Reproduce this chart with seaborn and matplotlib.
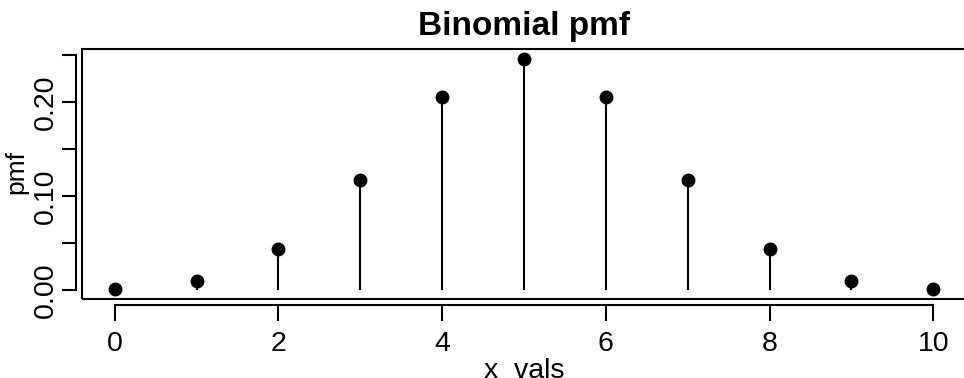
import matplotlib
matplotlib.use("Agg")
import matplotlib.pyplot as plt
from matplotlib.patches import Rectangle
import seaborn as sns
import pandas as pd

# Binomial(n=10, p=0.5) probability mass function
x_vals = [0, 1, 2, 3, 4, 5, 6, 7, 8, 9, 10]
pmf = [0.000977, 0.009766, 0.043945, 0.117188, 0.205078, 0.246094,
       0.205078, 0.117188, 0.043945, 0.009766, 0.000977]
x_ticks = [0, 2, 4, 6, 8, 10]
y_ticks = [0.00, 0.05, 0.10, 0.15, 0.20, 0.25]
y_ticklabels = ["0.00", "", "0.10", "", "0.20", ""]

df = pd.DataFrame({"x": x_vals, "pmf": pmf})

sns.set_style("white")
plt.rcParams["font.family"] = ["Liberation Sans", "DejaVu Sans"]
plt.rcParams["text.color"] = "black"
plt.rcParams["axes.labelcolor"] = "black"

fig = plt.figure(figsize=(9.64, 3.78), dpi=100)
ax = fig.add_axes([0.0851, 0.2082, 0.9169, 0.6614])

lw = 1.5
# vertical stems from zero up to each probability
ax.vlines(df["x"], 0, df["pmf"], color="black", linewidth=lw, zorder=2)
sns.scatterplot(data=df, x="x", y="pmf", ax=ax, color="black", s=100,
                edgecolor="black", linewidth=0, zorder=3)

# axis ranges with 4% padding on each side
xr = max(x_vals) - min(x_vals)
ax.set_xlim(min(x_vals) - 0.04 * xr, max(x_vals) + 0.04 * xr)
ax.set_ylim(-0.04 * max(pmf), max(pmf) * 1.04)

# plot frame
for s in ax.spines.values():
    s.set_visible(False)
ax.add_patch(Rectangle((0, 0), 1, 1, transform=ax.transAxes, fill=False,
                       edgecolor="black", linewidth=lw, clip_on=False, zorder=4))

# detached axes in the bottom-left
for side in ("left", "bottom"):
    sp = ax.spines[side]
    sp.set_visible(True)
    sp.set_position(("outward", 4))
    sp.set_linewidth(lw)
    sp.set_color("black")
ax.spines["bottom"].set_bounds(min(x_ticks), max(x_ticks))
ax.spines["left"].set_bounds(min(y_ticks), max(y_ticks))

ax.set_xticks(x_ticks)
ax.set_xticklabels([str(t) for t in x_ticks])
ax.set_yticks(y_ticks)
ax.set_yticklabels(y_ticklabels, rotation=90, va="center")
ax.tick_params(axis="both", direction="out", width=lw,
               color="black", labelsize=20.5, labelcolor="black",
               bottom=True, left=True, top=False, right=False)
ax.tick_params(axis="x", length=11.5, pad=7.5)
ax.tick_params(axis="y", length=10, pad=3)

ax.set_xlabel("x  vals", fontsize=20.5)
ax.xaxis.set_label_coords(0.5, -0.235)
ax.set_ylabel("pmf", fontsize=19)
ax.yaxis.set_label_coords(-0.061, 0.51)
ax.set_title("Binomial pmf", fontsize=24, fontweight="bold", pad=10.5)

fig.savefig("out.png", dpi=100)
